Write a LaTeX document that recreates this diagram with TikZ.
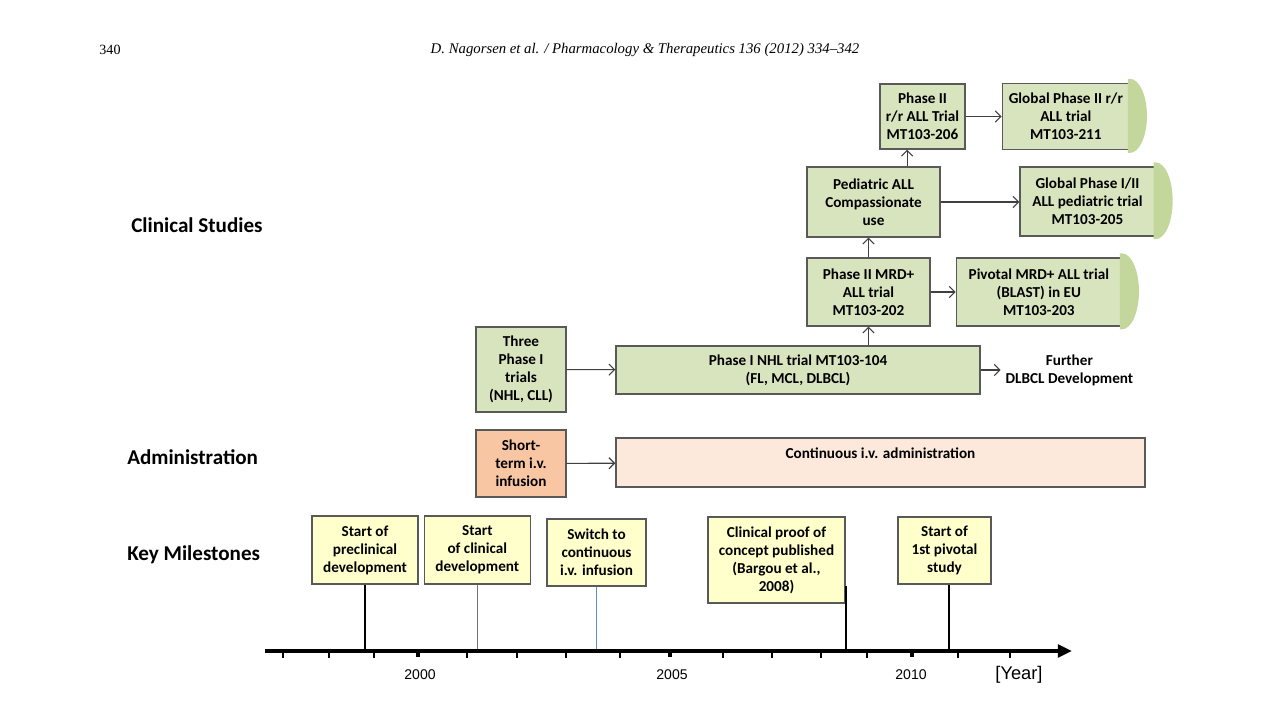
\documentclass[tikz,border=0pt]{standalone}
\usepackage{fontspec}
\setmainfont{Carlito}
\newfontfamily\axisfont{Liberation Sans}
\newfontfamily\headfont{Liberation Serif}
\usetikzlibrary{arrows.meta,positioning}
\definecolor{boxgreen}{HTML}{D7E4BD}
\definecolor{capgreen}{HTML}{C3D69B}
\definecolor{infpeach}{HTML}{F9C6A3}
\definecolor{admpeach}{HTML}{FCE9DC}
\definecolor{msyellow}{HTML}{FFFFCC}
\definecolor{boxline}{HTML}{595959}
\definecolor{switchblue}{HTML}{5B8FD0}

\tikzset{
  stage/.style={draw=boxline, line width=0.9pt, fill=boxgreen, align=center, inner sep=0pt, font=\fontsize{10.8}{12.8}\selectfont\bfseries},
  infbox/.style={stage, fill=infpeach},
  admbox/.style={stage, fill=admpeach},
  milestone/.style={stage, fill=msyellow},
  rowlabel/.style={anchor=west, inner sep=0pt, font=\fontsize{15}{18}\selectfont\bfseries},
  flow/.style={->, draw=black!75, line width=0.8pt},
  stem/.style={line width=1.3pt},
}

\begin{document}
\begin{tikzpicture}[x=0.025cm, y=-0.025cm, >={Straight Barb[length=4pt,width=8pt]}]
    \useasboundingbox (0,0) rectangle (1280,720);

    % running head
    \node[font=\headfont\fontsize{10}{12}\selectfont] (pagenum) at (110,50) {340};
    \node[font=\headfont\itshape\fontsize{10.5}{12}\selectfont] (runhead) at (645,50) {D. Nagorsen et al. / Pharmacology \& Therapeutics 136 (2012) 334–342};

    % row labels
    \node[rowlabel] (clinlbl) at (131,225) {Clinical Studies};
    \node[rowlabel] (admlbl) at (127,457) {Administration};
    \node[rowlabel] (keylbl) at (127,555) {Key Milestones};

    % clinical studies
    \node[stage, minimum width=2.25cm, minimum height=2.125cm] (three) at (521,369.5) {Three\\Phase I\\trials\\(NHL, CLL)};
    \node[stage, minimum width=9.1cm, minimum height=1.2cm] (nhl) at (798,370) {Phase I NHL trial MT103-104\\(FL, MCL, DLBCL)};
    \node[align=center, font=\fontsize{10.8}{12.8}\selectfont\bfseries, right=0.5cm of nhl] (further) {Further\\DLBCL Development};
    \node[stage, minimum width=3.075cm, minimum height=1.7cm] (mrd) at (868.5,292) {Phase II MRD+\\ALL trial\\MT103-202};
    \node[stage, minimum width=4.125cm, minimum height=1.7cm, right=0.625cm of mrd] (pivotal) {Pivotal MRD+ ALL trial\\(BLAST) in EU\\MT103-203};
    \node[stage, minimum width=3.325cm, minimum height=1.75cm] (pedi) at (873.5,202) {Pediatric ALL\\Compassionate\\use};
    \node[stage, minimum width=3.375cm, minimum height=1.725cm] (glob205) at (1087.5,201.5) {Global Phase I/II\\ALL pediatric trial\\MT103-205};
    \node[stage, minimum width=2.125cm, minimum height=1.625cm] (ph206) at (922.5,116.5) {Phase II\\r/r ALL Trial\\MT103-206};
    \node[stage, minimum width=3.175cm, minimum height=1.65cm, right=0.9cm of ph206] (glob211) {Global Phase II r/r\\ALL trial\\MT103-211};

    % rounded ends of the ongoing trials
    \foreach \n/\r in {pivotal/0.95cm, glob205/0.96cm, glob211/0.925cm}
        \fill[capgreen] ([xshift=-0.05cm, yshift=0.1cm]\n.north east) -- ++(0.05cm,0) arc[start angle=90, end angle=-90, x radius=0.425cm, y radius=\r] -- ++(-0.05cm,0) -- cycle;

    \draw[flow] (three) -- (nhl);
    \draw[flow] (nhl) -- (further);
    \draw[flow] (mrd.south |- nhl.north) -- (mrd.south);
    \draw[flow] (mrd) -- (pivotal);
    \draw[flow] (mrd.north) -- (mrd.north |- pedi.south);
    \draw[flow] (pedi.east) -- (pedi.east -| glob205.west);
    \coordinate (pedtop) at ([xshift=0.84cm]pedi.north);
    \draw[flow] (pedtop) -- (pedtop |- ph206.south);
    \draw[flow] (ph206) -- (glob211);

    % administration
    \node[infbox, minimum width=2.25cm, minimum height=1.675cm] (shortinf) at (521,463.5) {Short-\\term i.v.\\infusion};
    \node[admbox, minimum width=13.225cm, minimum height=1.225cm, text height=7.5pt, text depth=13.9pt] (contadm) at (880.5,462.5) {Continuous i.v. administration};
    \draw[flow] (shortinf) -- (contadm);

    % key milestones
    \node[milestone, minimum width=2.65cm, minimum height=1.7cm] (ms1) at (365,550) {Start of\\preclinical\\development};
    \node[milestone, minimum width=2.65cm, minimum height=1.7cm, right=0.125cm of ms1] (ms2) {Start\\of clinical\\development};
    \node[milestone, minimum width=2.475cm, minimum height=1.675cm] (ms3) at (596.5,552.5) {Switch to\\continuous\\i.v. infusion};
    \node[milestone, minimum width=3.425cm, minimum height=2.15cm] (ms4) at (776.5,560) {Clinical proof of\\concept published\\(Bargou et al.,\\2008)};
    \node[milestone, minimum width=2.325cm, minimum height=1.675cm] (ms5) at (944.5,550.5) {Start of\\1st pivotal\\study};

    % time axis
    \coordinate (axstart) at (265,651);
    \coordinate (axend) at (1072,651);
    \draw[stem] (ms1.south) -- (ms1.south |- axstart);
    \draw[stem, black!55, line width=1.1pt] (ms2.south) -- (ms2.south |- axstart);
    \draw[stem, switchblue, line width=1.1pt] (ms3.south) -- (ms3.south |- axstart);
    \draw[stem] ([yshift=0.45cm]ms4.south east) -- (ms4.south east |- axstart);
    \coordinate (ms5foot) at ([xshift=0.11cm]ms5.south);
    \draw[stem] (ms5foot) -- (ms5foot |- axstart);
    \draw[-{Triangle[length=10pt,width=9pt]}, line width=2.2pt] (axstart) -- (axend);
    \foreach \tx in {283,329,374,467,517,566,620,723,772,821,867,958,1010}
        \draw[line width=1.2pt] (\tx,651) -- (\tx,658);
    \foreach \tx in {418,670,912}
        \draw[line width=3pt] (\tx,651) -- (\tx,657);
    \node[font=\axisfont\fontsize{10}{12}\selectfont] (yr2000) at (420,675) {2000};
    \node[font=\axisfont\fontsize{10}{12}\selectfont] (yr2005) at (672,675) {2005};
    \node[font=\axisfont\fontsize{10}{12}\selectfont] (yr2010) at (911,675) {2010};
    \node[font=\axisfont\fontsize{13}{15}\selectfont] (yearlbl) at (1019,675) {[Year]};
\end{tikzpicture}
\end{document}
